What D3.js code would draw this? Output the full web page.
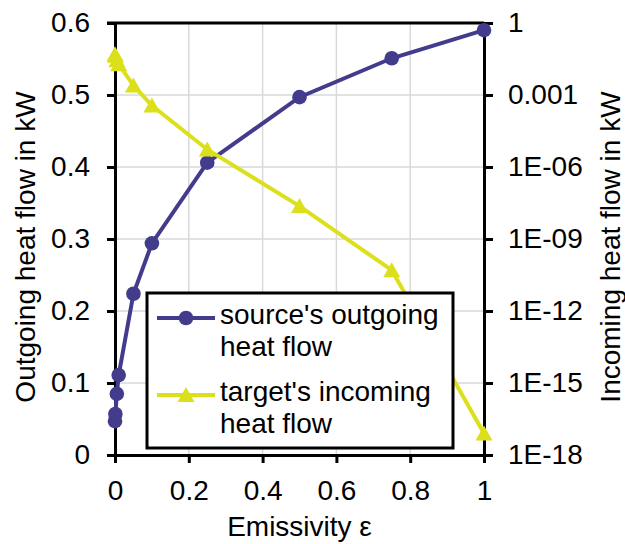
<!DOCTYPE html>
<html>
<head>
<meta charset="utf-8">
<script src="https://cdn.jsdelivr.net/npm/d3@7"></script>
<style>
  body { margin: 0; background: #fff; }
  svg text { font-family: "Liberation Sans", Arial, sans-serif; fill: #000; }
</style>
</head>
<body>
<div id="chart"></div>
<script>
// emissivity values (x) shared by both series
var emissivity = [0, 0.001, 0.005, 0.01, 0.05, 0.1, 0.25, 0.5, 0.75, 1];
// source's outgoing heat flow in kW (left axis)
var outgoing = [0.047, 0.057, 0.085, 0.111, 0.224, 0.294, 0.406, 0.497, 0.551, 0.590];
// target's incoming heat flow in kW (right axis, log), read as powers of ten
var incomingExp = [-1.3, -1.36, -1.55, -1.72, -2.6, -3.44, -5.27, -7.63, -10.3, -17.1];
var incoming = incomingExp.map(function(e) { return Math.pow(10, e); });

var xTicks = [0, 0.2, 0.4, 0.6, 0.8, 1];
var yLeftTicks = [0, 0.1, 0.2, 0.3, 0.4, 0.5, 0.6];
var yRightTicks = [1, 1e-3, 1e-6, 1e-9, 1e-12, 1e-15, 1e-18];
var yRightLabels = ["1", "0.001", "1E-06", "1E-09", "1E-12", "1E-15", "1E-18"];

var width = 625, height = 544;
var margin = {top: 23, right: 141, bottom: 89, left: 115};
var blue = "#433c8c", yellow = "#dce01c";

var svg = d3.select("#chart").append("svg")
  .attr("width", width)
  .attr("height", height);

var x = d3.scaleLinear().domain([0, 1]).range([margin.left, width - margin.right]);
var yL = d3.scaleLinear().domain([0, 0.6]).range([height - margin.bottom, margin.top]);
var yR = d3.scaleLog().domain([1e-18, 1]).range([height - margin.bottom, margin.top]);

// grid
var grid = svg.append("g").attr("stroke", "#d9d9d9").attr("stroke-width", 1.5);
grid.selectAll(".gx")
  .data(xTicks.slice(1, -1))
  .enter().append("line")
  .attr("x1", function(d) { return x(d); })
  .attr("x2", function(d) { return x(d); })
  .attr("y1", yL(0)).attr("y2", yL(0.6));
grid.selectAll(".gy")
  .data(yLeftTicks.slice(1, -1))
  .enter().append("line")
  .attr("y1", function(d) { return yL(d); })
  .attr("y2", function(d) { return yL(d); })
  .attr("x1", x(0)).attr("x2", x(1));

// axes
function styleAxis(g) {
  g.selectAll("path").attr("stroke", "#000").attr("stroke-width", 3);
  g.selectAll("line").attr("stroke", "#000").attr("stroke-width", 3);
  g.selectAll("text").style("font-size", "28px");
  g.attr("font-family", null).attr("font-size", null);
}

svg.append("g")
  .attr("transform", "translate(0," + yL(0) + ")")
  .call(d3.axisBottom(x).tickValues(xTicks).tickSize(8).tickSizeOuter(0).tickPadding(17)
    .tickFormat(d3.format("")))
  .call(styleAxis);

svg.append("g")
  .attr("transform", "translate(" + x(0) + ",0)")
  .call(d3.axisLeft(yL).tickValues(yLeftTicks).tickSize(8).tickSizeOuter(0).tickPadding(17)
    .tickFormat(d3.format("")))
  .call(styleAxis);

svg.append("g")
  .attr("transform", "translate(" + x(1) + ",0)")
  .call(d3.axisRight(yR).tickValues(yRightTicks).tickSize(9).tickSizeOuter(0).tickPadding(15)
    .tickFormat(function(d, i) { return yRightLabels[i]; }))
  .call(styleAxis);

// top frame
svg.append("line")
  .attr("x1", x(0) - 8).attr("x2", x(1))
  .attr("y1", yL(0.6)).attr("y2", yL(0.6))
  .attr("stroke", "#000").attr("stroke-width", 3);

// axis titles
svg.append("text")
  .attr("x", (x(0) + x(1)) / 2).attr("y", 536)
  .attr("text-anchor", "middle")
  .style("font-size", "28px")
  .text("Emissivity ε");
svg.append("text")
  .attr("transform", "translate(35,247) rotate(-90)")
  .attr("text-anchor", "middle")
  .style("font-size", "28px")
  .text("Outgoing heat flow in kW");
svg.append("text")
  .attr("transform", "translate(620,247) rotate(-90)")
  .attr("text-anchor", "middle")
  .style("font-size", "28px")
  .text("Incoming heat flow in kW");

// series
var pts = emissivity.map(function(e, i) { return {e: e, out: outgoing[i], inc: incoming[i]}; });
var triangle = "M0,-8L8.5,7L-8.5,7Z";

svg.append("path")
  .datum(pts)
  .attr("fill", "none").attr("stroke", blue).attr("stroke-width", 4)
  .attr("d", d3.line().x(function(d) { return x(d.e); }).y(function(d) { return yL(d.out); }));
svg.append("g").selectAll("circle")
  .data(pts)
  .enter().append("circle")
  .attr("cx", function(d) { return x(d.e); })
  .attr("cy", function(d) { return yL(d.out); })
  .attr("r", 7.3)
  .attr("fill", blue);

svg.append("path")
  .datum(pts)
  .attr("fill", "none").attr("stroke", yellow).attr("stroke-width", 4)
  .attr("d", d3.line().x(function(d) { return x(d.e); }).y(function(d) { return yR(d.inc); }));
svg.append("g").selectAll("path")
  .data(pts)
  .enter().append("path")
  .attr("d", triangle)
  .attr("transform", function(d) { return "translate(" + x(d.e) + "," + yR(d.inc) + ")"; })
  .attr("fill", yellow);

// legend
var legend = svg.append("g");
legend.append("rect")
  .attr("x", 147).attr("y", 293).attr("width", 306).attr("height", 155)
  .attr("fill", "#fff").attr("stroke", "#000").attr("stroke-width", 3);

var items = [
  {color: blue, marker: "circle", lines: ["source's outgoing", "heat flow"], y: 318},
  {color: yellow, marker: "triangle", lines: ["target's incoming", "heat flow"], y: 395}
];
items.forEach(function(it) {
  legend.append("line")
    .attr("x1", 157).attr("x2", 215).attr("y1", it.y).attr("y2", it.y)
    .attr("stroke", it.color).attr("stroke-width", 4);
  if (it.marker === "circle") {
    legend.append("circle").attr("cx", 186).attr("cy", it.y).attr("r", 7.3).attr("fill", it.color);
  } else {
    legend.append("path").attr("d", triangle)
      .attr("transform", "translate(186," + it.y + ")").attr("fill", it.color);
  }
  it.lines.forEach(function(t, j) {
    legend.append("text")
      .attr("x", 220).attr("y", it.y + 6 + j * 32)
      .style("font-size", "28px")
      .text(t);
  });
});
</script>
</body>
</html>
